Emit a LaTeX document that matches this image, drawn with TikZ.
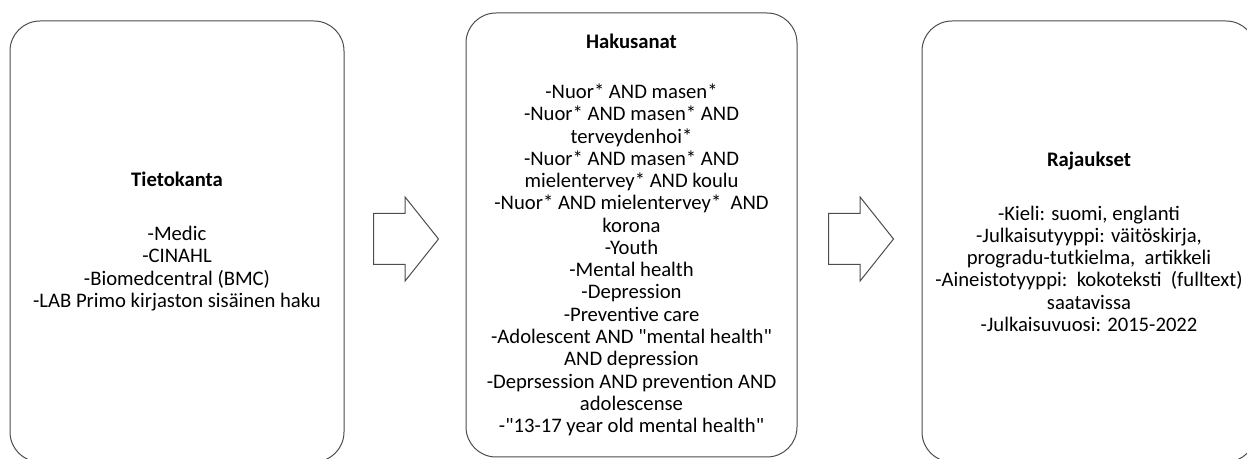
\documentclass[tikz,border=0pt]{standalone}
\usepackage{fontspec}
\setmainfont{Carlito}[Ligatures=TeXOff]
\usetikzlibrary{shapes.arrows}

\begin{document}
\begin{tikzpicture}[
  x=0.75pt, y=-0.75pt,
  every node/.style={font=\fontsize{15.5}{16.7}\selectfont},
  box/.style   ={draw=black!70, line width=0.75pt, rounded corners=22.5pt,
                 align=center, inner sep=0pt,
                 minimum width=250.5pt, minimum height=330.75pt},
  flow/.style  ={draw=black!70, line width=0.75pt, single arrow,
                 single arrow head extend=12.4pt, single arrow tip angle=103,
                 minimum height=48.75pt, inner xsep=0pt, inner ysep=18.75pt,
                 anchor=tail},
]
  \clip (0,0) rectangle (1247,459);

  \node[box] (tieto) at (177,241.5)
    {\textbf{Tietokanta}\\[23.8pt]
     -Medic\\
     -CINAHL\\
     -Biomedcentral (BMC)\\
     -LAB Primo kirjaston sisäinen haku};
  \node[box, minimum width=248.25pt, minimum height=333pt] (haku) at (631.5,235)
    {\textbf{Hakusanat}\\[20.8pt]
     -Nuor* AND masen*\\
     -Nuor* AND masen* AND\\
     terveydenhoi*\\
     -Nuor* AND masen* AND\\
     mielentervey* AND koulu\\
     -Nuor* AND mielentervey*\ \ AND\\
     korona\\
     -Youth\\
     -Mental health\\
     -Depression\\
     -Preventive care\\
     -Adolescent AND "mental health"\\
     AND depression\\
     -Deprsession AND prevention AND\\
     adolescense\\
     -"13-17 year old mental health"};
  \node[box] (rajaus) at (1089,241.5)
    {\textbf{Rajaukset}\\[23.8pt]
     -Kieli: suomi, englanti\\
     -Julkaisutyyppi: väitöskirja,\\
     progradu-tutkielma,\ \ artikkeli\\
     -Aineistotyyppi:\ \ kokoteksti\ \ (fulltext)\\
     saatavissa\\
     -Julkaisuvuosi: 2015-2022};

  \node[flow] (nuoli1) at (373,239) {};
  \node[flow] (nuoli2) at (828,239) {};
\end{tikzpicture}
\end{document}
